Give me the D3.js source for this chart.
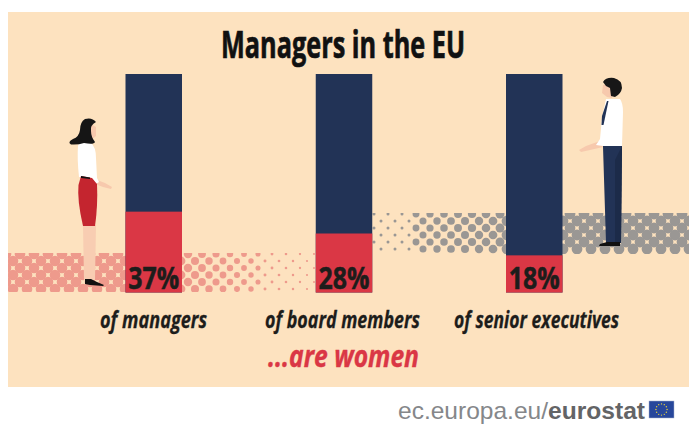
<!DOCTYPE html>
<html>
<head>
<meta charset="utf-8">
<title>Managers in the EU</title>
<script src="https://cdn.jsdelivr.net/npm/d3@7"></script>
<style>
html, body { margin: 0; padding: 0; background: #fff; }
svg { display: block; }
text { font-family: "Open Sans", sans-serif; font-weight: bold; }
</style>
</head>
<body>
<svg id="chart" width="700" height="441"></svg>
<script>
var categories = ["of managers", "of board members", "of senior executives"];
var valueLabels = ["37%", "28%", "18%"];
// red part of each bar, as drawn in the picture (% of bar height)
var womenShare = [37, 27, 17];

var navy = "#223356", red = "#da3745", ink = "#1d1d1b";
var svg = d3.select("#chart");

var x = d3.scaleBand().domain(categories).range([125.5, 562.5])
  .paddingInner(1 - 56.5 / 190.25).paddingOuter(0);
var y = d3.scaleLinear().domain([0, 100]).range([292.5, 74]);

svg.append("rect").attr("x", 8).attr("y", 12).attr("width", 681).attr("height", 375).attr("fill", "#fde2bf");

// halftone bands behind the bars
var defs = svg.append("defs");
defs.append("clipPath").attr("id", "redBand").append("rect").attr("x", 8).attr("y", 253).attr("width", 308).attr("height", 39);
defs.append("clipPath").attr("id", "greyBand").append("rect").attr("x", 372).attr("y", 213).attr("width", 317).attr("height", 41);

function halftone(clip, color, x0, x1, y0, y1, radius) {
  var dots = [], step = 14, row = 0;
  for (var py = y0; py <= y1; py += 7, row++) {
    for (var px = x0 + (row % 2) * step / 2; px <= x1; px += step) {
      dots.push({ x: px, y: py, r: radius(px) });
    }
  }
  svg.append("g").attr("clip-path", "url(#" + clip + ")").attr("fill", color)
    .selectAll("circle").data(dots).join("circle")
    .attr("cx", function(d) { return d.x; })
    .attr("cy", function(d) { return d.y; })
    .attr("r", function(d) { return d.r; });
}
halftone("redBand", "#ee9a8c", 6, 320, 254, 293, function(px) {
  if (px < 180) return 5.3;
  if (px < 264) return 4.4 - (px - 180) / 84 * 2;
  return 1.5 - (px - 264) / 52 * 0.5;
});
halftone("greyBand", "#9a9794", 374, 696, 214, 255, function(px) {
  if (px < 413) return 1.5;
  if (px < 505) return 3.4 + (px - 413) / 92 * 1.1;
  return 5.4;
});

// bars
var bars = svg.append("g").selectAll("g").data(categories).join("g");
bars.append("rect")
  .attr("x", function(d) { return x(d); })
  .attr("width", x.bandwidth())
  .attr("y", y(100))
  .attr("height", y(0) - y(100))
  .attr("fill", navy);
bars.append("rect")
  .attr("x", function(d) { return x(d); })
  .attr("width", x.bandwidth())
  .attr("y", function(d, i) { return y(womenShare[i]); })
  .attr("height", function(d, i) { return y(0) - y(womenShare[i]); })
  .attr("fill", red);
bars.append("text")
  .attr("x", function(d) { return x(d) + x.bandwidth() / 2; })
  .attr("y", 289)
  .attr("text-anchor", "middle")
  .attr("font-size", 30)
  .attr("fill", ink)
  .attr("stroke", ink).attr("stroke-width", 0.5)
  .attr("textLength", 51)
  .attr("lengthAdjust", "spacingAndGlyphs")
  .text(function(d, i) { return valueLabels[i]; });

// text
svg.append("text").attr("x", 343).attr("y", 58).attr("text-anchor", "middle")
  .attr("font-size", 37).attr("fill", "#111")
  .attr("stroke", "#111").attr("stroke-width", 0.7)
  .attr("textLength", 244).attr("lengthAdjust", "spacingAndGlyphs")
  .text("Managers in the EU");

var labelX = [153.5, 342.5, 536.5], labelW = [107, 155, 165];
svg.append("g").selectAll("text").data(categories).join("text")
  .attr("x", function(d, i) { return labelX[i]; })
  .attr("y", 328)
  .attr("text-anchor", "middle")
  .attr("font-size", 23)
  .attr("font-style", "italic")
  .attr("fill", ink)
  .attr("stroke", ink).attr("stroke-width", 0.3)
  .attr("textLength", function(d, i) { return labelW[i]; })
  .attr("lengthAdjust", "spacingAndGlyphs")
  .text(function(d) { return d; });

svg.append("text").attr("x", 343.5).attr("y", 367).attr("text-anchor", "middle")
  .attr("font-size", 31).attr("font-style", "italic").attr("fill", red)
  .attr("stroke", red).attr("stroke-width", 0.4)
  .attr("textLength", 151).attr("lengthAdjust", "spacingAndGlyphs")
  .text("...are women");

// footer
svg.append("text").attr("x", 398).attr("y", 419).attr("font-size", 24)
  .style("font-family", "Liberation Sans").style("font-weight", "normal").attr("fill", "#85878a")
  .attr("textLength", 150).attr("lengthAdjust", "spacingAndGlyphs")
  .text("ec.europa.eu/");
svg.append("text").attr("x", 548).attr("y", 419).attr("font-size", 24)
  .style("font-family", "Liberation Sans").attr("fill", "#636466")
  .attr("textLength", 97).attr("lengthAdjust", "spacingAndGlyphs")
  .text("eurostat");
svg.append("rect").attr("x", 649).attr("y", 401).attr("width", 25).attr("height", 17)
  .attr("fill", "#27479b").attr("stroke", "#a9b3cc").attr("stroke-width", 0.5);
svg.append("g").selectAll("circle").data(d3.range(12)).join("circle")
  .attr("cx", function(i) { return 661.5 + 5.6 * Math.cos(i * Math.PI / 6); })
  .attr("cy", function(i) { return 409.5 + 5.6 * Math.sin(i * Math.PI / 6); })
  .attr("r", 0.7).attr("fill", "#e6d23c");

// figures
function shape(g, d, fill) { g.append("path").attr("d", d).attr("fill", fill); }

var skin = "#f7c9ad";
var woman = svg.append("g");
shape(woman, "M97 180 L105 183 L112 187 L111 189 L103 187 L95 184Z", skin); // arm
shape(woman, "M83 225 L96 225 L95 280 L84 280Z", "#f8cdb2"); // legs
shape(woman, "M85 279 L91 279 L97 282 L104 285 L103 286 L90 285 L85 284Z", "#111"); // shoes
shape(woman, "M79 143 L91 143 Q96 147 96 158 L97 178 L99 182 L96 184 L92 178 L79 177 Q77 158 78 146Z", "#fff"); // shirt
shape(woman, "M81 176 L92 178 L97 184 Q98 205 95 226 L83 226 Q77 200 78.5 185Z", "#c4252f"); // skirt
shape(woman, "M81 176 L90 177.5 L90 179 L81 178Z", "#111"); // belt
shape(woman, "M89 123 L96 127 L96 136 L91 140 L85 138Z", skin); // face
shape(woman, "M96 122 Q92 117 85 119 Q80 122 80 130 Q79 137 73 139 Q67 142 71 144.5 Q78 145 84 143 Q94 145 95 142 Q91 137 91 131 Q90 125 96 122Z", "#151515"); // hair

var man = svg.append("g");
shape(man, "M600 141 L603 147 L590 150 L581 152 L579 150 L586 146Z", skin); // arm
shape(man, "M603 146 L622 146 L621 243 L606 243Z", navy); // trousers
shape(man, "M615 160 L622 146 L621 243 L615 243Z", "#1c2b49");
shape(man, "M607 242 L620 242 L620 246 L599 246 L600 244Z", "#111"); // shoe
shape(man, "M606 99 L620 99 Q623 103 623 112 L622 146 L603 146 L596 145 L600 139 L602 118Z", "#fff"); // shirt
shape(man, "M607 101 L608.5 101 L603.5 125 L601.5 125 L602 116Z", navy); // tie
shape(man, "M603 85 L612 84 L612 98 L607 97 L602 93Z", skin); // face
shape(man, "M603 82 Q606 77 614 78 Q622 80 622 88 Q621 94 615 97 L611 96 L610 88 L606 86Z", "#171717"); // hair
</script>
</body>
</html>
